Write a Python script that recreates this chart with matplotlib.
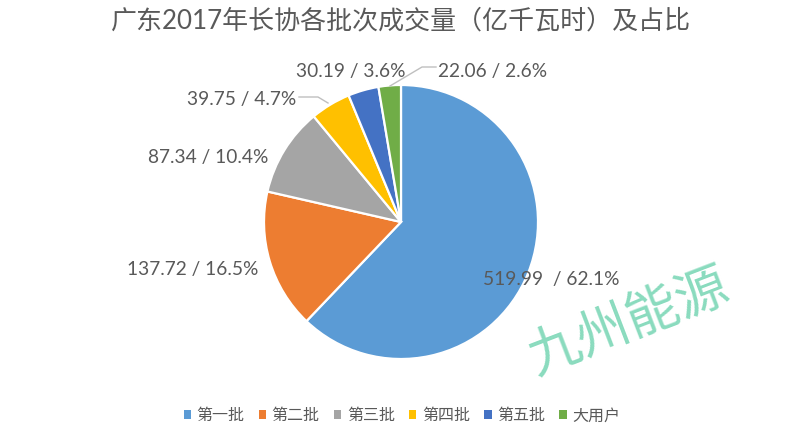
import matplotlib
matplotlib.use("Agg")
import matplotlib.pyplot as plt
from matplotlib.patches import Patch

plt.rcParams['font.family'] = ['Lato', 'Noto Sans CJK SC', 'DejaVu Sans']

title = "广东2017年长协各批次成交量（亿千瓦时）及占比"
categories = ["第一批", "第二批", "第三批", "第四批", "第五批", "大用户"]
values = [519.99, 137.72, 87.34, 39.75, 30.19, 22.06]
colors = ["#5B9BD5", "#ED7D31", "#A5A5A5", "#FFC000", "#4472C4", "#70AD47"]
watermark = "九州能源"

W, H = 800, 442
fig = plt.figure(figsize=(W / 100, H / 100), dpi=100)
ax = fig.add_axes([0, 0, 1, 1])

def py(y):
    return H - y

cx, cy, r = 401, 222, 137
wedges, _ = ax.pie(values, colors=colors, startangle=90, counterclock=False,
                   center=(cx, py(cy)), radius=r,
                   wedgeprops=dict(edgecolor="white", linewidth=1.6))
ax.set_xlim(0, W)
ax.set_ylim(0, H)
ax.set_aspect("equal")
ax.axis("off")

total = sum(values)
labels = [f"{v:.2f} / {v / total * 100:.1f}%" for v in values]
labels[0] = labels[0].replace(" /", "  /")

# label layout (pixel positions, alignment)
label_pos = [(483, 280, "left"), (258, 270, "right"), (268, 157, "right"),
             (296, 99, "right"), (405, 72, "right"), (438, 72, "left")]
tc = "#595959"
for lab, (x, y, ha) in zip(labels, label_pos):
    ax.text(x, py(y), lab, ha=ha, va="center", fontsize=13.8, color=tc)

# leader lines
lc = "#BFBFBF"
ax.plot([299, 318, 328], [py(97), py(97), py(103)], color=lc, lw=1)
ax.plot([436, 422, 390], [py(67), py(67), py(86)], color=lc, lw=1)

ax.text(401, py(21), title, ha="center", va="center", fontsize=18.7, color=tc)

handles = [Patch(facecolor=c, edgecolor="none") for c in colors]
leg = ax.legend(handles, categories, loc="center", bbox_to_anchor=(402 / W, 1 - 416 / H),
                ncol=6, frameon=False, fontsize=11.5, handlelength=0.45, handleheight=0.45,
                handletextpad=0.35, columnspacing=0.9, labelcolor=tc)

ax.text(628, py(322), watermark, ha="center", va="center", fontsize=38,
        color="#8ADBBE", rotation=21, family=["Noto Sans CJK SC"], fontweight="light")

fig.savefig("out.png", dpi=100)
